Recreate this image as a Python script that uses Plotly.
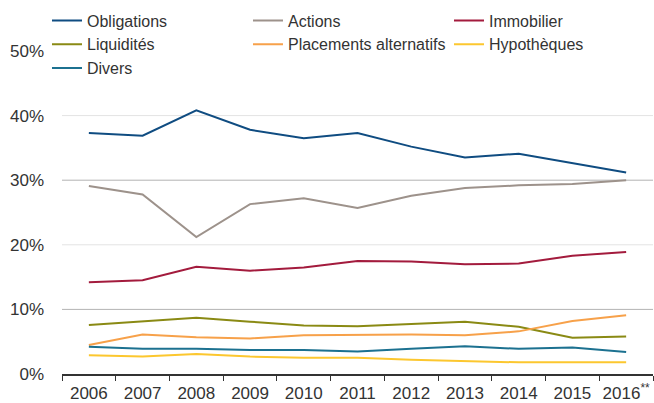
import plotly.graph_objects as go

years = ["2006", "2007", "2008", "2009", "2010", "2011", "2012", "2013", "2014", "2015", "2016"]
year_labels = ["2006", "2007", "2008", "2009", "2010", "2011", "2012", "2013", "2014", "2015", "2016<sup>**</sup>"]

obligations = [37.3, 36.9, 40.8, 37.8, 36.5, 37.3, 35.2, 33.5, 34.1, 32.6, 31.2]
actions = [29.1, 27.8, 21.2, 26.3, 27.2, 25.7, 27.6, 28.8, 29.2, 29.4, 30.0]
immobilier = [14.2, 14.5, 16.6, 16.0, 16.5, 17.5, 17.4, 17.0, 17.1, 18.3, 18.9]
liquidites = [7.6, 8.1, 8.7, 8.1, 7.5, 7.4, 7.7, 8.1, 7.3, 5.6, 5.8]
placements = [4.5, 6.1, 5.7, 5.5, 6.0, 6.1, 6.1, 6.0, 6.6, 8.2, 9.1]
hypotheques = [2.9, 2.7, 3.1, 2.7, 2.5, 2.5, 2.2, 2.0, 1.8, 1.8, 1.8]
divers = [4.2, 3.9, 3.9, 3.7, 3.7, 3.5, 3.9, 4.3, 3.9, 4.1, 3.4]

series = [
    ("Obligations", obligations, "#0f4c81"),
    ("Actions", actions, "#9d928b"),
    ("Immobilier", immobilier, "#a31b3d"),
    ("Liquidités", liquidites, "#8a8a14"),
    ("Placements alternatifs", placements, "#f7a14a"),
    ("Hypothèques", hypotheques, "#fcc72f"),
    ("Divers", divers, "#1c7190"),
]

y_ticks = [0, 10, 20, 30, 40, 50]
y_tick_text = ["0%", "10%", "20%", "30%", "40%", "50%"]
dark_grid = [10, 30]
light_grid = [20, 40]

fig = go.Figure()
for name, vals, color in series:
    fig.add_trace(go.Scatter(x=years, y=vals, mode="lines", name=name,
                             line=dict(color=color, width=2)))

shapes = []
for v in dark_grid:
    shapes.append(dict(type="line", xref="paper", yref="y", x0=0, x1=1, y0=v, y1=v,
                       line=dict(color="#b3b3b3", width=1), layer="below"))
for v in light_grid:
    shapes.append(dict(type="line", xref="paper", yref="y", x0=0, x1=1, y0=v, y1=v,
                       line=dict(color="#e3e3e3", width=1), layer="below"))

fig.update_layout(
    width=654, height=403,
    margin=dict(l=62, r=1, t=51, b=29),
    paper_bgcolor="white", plot_bgcolor="white",
    font=dict(family="Liberation Sans, Arial, sans-serif", size=16, color="#333333"),
    shapes=shapes,
    showlegend=True,
    legend=dict(orientation="h", x=-0.0254, y=1.147, xanchor="left", yanchor="top",
                entrywidth=156, entrywidthmode="pixels",
                font=dict(size=16, color="#333333"), bgcolor="rgba(0,0,0,0)",
                tracegroupgap=0),
    xaxis=dict(type="category", range=[-0.5, 10.5], tickmode="array",
               tickvals=years, ticktext=year_labels, tickson="boundaries",
               ticks="outside", ticklen=5, tickcolor="#333333", showgrid=False,
               showline=True, linecolor="#333333", linewidth=1.5, tickangle=0,
               tickfont=dict(size=17, color="#333333"), automargin=False,
               ticklabelstandoff=3),
    yaxis=dict(range=[0, 50], tickmode="array", tickvals=y_ticks, ticktext=y_tick_text,
               showgrid=False, zeroline=False, showline=False, ticks="",
               tickfont=dict(size=17, color="#333333"), automargin=False,
               ticklabelstandoff=17),
)

fig.write_html("out.html", config={"displayModeBar": False},
               post_script="document.body.style.margin='0';")
